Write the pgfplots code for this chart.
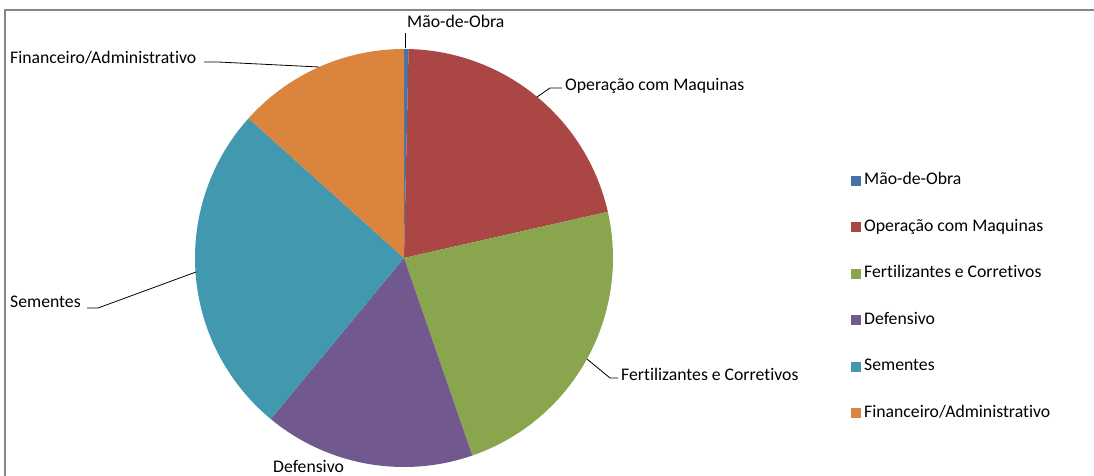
\documentclass[border=0pt]{standalone}
\usepackage{pgfplots}
\pgfplotsset{compat=1.18}
\usepackage{pgfplotstable}
\usepackage{fontspec}
\setmainfont{Carlito}[Ligatures=NoCommon]
\definecolor{cA}{HTML}{4572A7}
\definecolor{cB}{HTML}{AA4643}
\definecolor{cC}{HTML}{89A54E}
\definecolor{cD}{HTML}{71588F}
\definecolor{cE}{HTML}{4198AF}
\definecolor{cF}{HTML}{DB843D}
\definecolor{frame}{RGB}{134,134,134}
\pgfplotstableread{
idx pct
0 0.35
1 21.10
2 23.25
3 16.30
4 25.65
5 13.35
}\pietable
\newcommand\getpct[1]{\pgfplotstablegetelem{#1}{pct}\of\pietable}
\getpct{0}\pgfmathsetmacro\aA{90-3.6*\pgfplotsretval}
\getpct{1}\pgfmathsetmacro\aB{\aA-3.6*\pgfplotsretval}
\getpct{2}\pgfmathsetmacro\aC{\aB-3.6*\pgfplotsretval}
\getpct{3}\pgfmathsetmacro\aD{\aC-3.6*\pgfplotsretval}
\getpct{4}\pgfmathsetmacro\aE{\aD-3.6*\pgfplotsretval}
\getpct{5}\pgfmathsetmacro\aF{\aE-3.6*\pgfplotsretval}
\newcommand\lf{\fontsize{17.7bp}{21bp}\selectfont}
\begin{document}
\begin{tikzpicture}
\begin{axis}[
  width=1094bp, height=475bp, scale only axis,
  xmin=0, xmax=1094, ymin=0, ymax=475,
  hide axis, clip=false,
  legend cell align=left,
  legend image code/.code={\path[#1] (0bp,-5bp) rectangle (10bp,5bp);},
  legend style={draw=none, fill=none, at={(axis cs:851,178)}, anchor=west,
    font=\lf, row sep=30.5bp, inner sep=0pt,
    nodes={inner sep=0pt, text height=12bp, text depth=4bp},
    /tikz/every odd column/.append style={column sep=3bp}},
]
\addplot[fill=cA, draw=none, domain=\aA:90, samples=5] ({404+209*cos(x)},{217+209*sin(x)}) -- (axis cs:404,217) -- cycle;
\addlegendentry{Mão-de-Obra}
\addplot[fill=cB, draw=none, domain=\aB:\aA, samples=80] ({404+209*cos(x)},{217+209*sin(x)}) -- (axis cs:404,217) -- cycle;
\addlegendentry{Operação com Maquinas}
\addplot[fill=cC, draw=none, domain=\aC:\aB, samples=80] ({404+209*cos(x)},{217+209*sin(x)}) -- (axis cs:404,217) -- cycle;
\addlegendentry{Fertilizantes e Corretivos}
\addplot[fill=cD, draw=none, domain=\aD:\aC, samples=80] ({404+209*cos(x)},{217+209*sin(x)}) -- (axis cs:404,217) -- cycle;
\addlegendentry{Defensivo}
\addplot[fill=cE, draw=none, domain=\aE:\aD, samples=80] ({404+209*cos(x)},{217+209*sin(x)}) -- (axis cs:404,217) -- cycle;
\addlegendentry{Sementes}
\addplot[fill=cF, draw=none, domain=\aF:\aE, samples=80] ({404+209*cos(x)},{217+209*sin(x)}) -- (axis cs:404,217) -- cycle;
\addlegendentry{Financeiro/Administrativo}
% frame
\draw[frame, line width=1.3bp] (axis cs:5,-5) -- (axis cs:5,465) -- (axis cs:1100,465);
% leader lines
\draw[black, line width=0.8bp] (axis cs:405,427) -- (axis cs:405,442);
\draw[black, line width=0.8bp] (axis cs:537,378) -- (axis cs:550,387) -- (axis cs:562,387);
\draw[black, line width=0.8bp] (axis cs:587,116) -- (axis cs:610,97) -- (axis cs:618,97);
\draw[black, line width=0.8bp] (axis cs:196,203) -- (axis cs:98,167) -- (axis cs:87,167);
\draw[black, line width=0.8bp] (axis cs:319,408) -- (axis cs:218,413) -- (axis cs:204,413);
% labels
\node[font=\lf, inner sep=0pt, anchor=base west] at (axis cs:407,447) {Mão-de-Obra};
\node[font=\lf, inner sep=0pt, anchor=base west] at (axis cs:565,384) {Operação com Maquinas};
\node[font=\lf, inner sep=0pt, anchor=base west] at (axis cs:621,95) {Fertilizantes e Corretivos};
\node[font=\lf, inner sep=0pt, anchor=base west] at (axis cs:273,3) {Defensivo};
\node[font=\lf, inner sep=0pt, anchor=base west] at (axis cs:10,167) {Sementes};
\node[font=\lf, inner sep=0pt, anchor=base west] at (axis cs:10,411) {Financeiro/Administrativo};
\end{axis}
\pgfresetboundingbox
\path (current axis.south west) rectangle (current axis.north east);
\end{tikzpicture}
\end{document}
